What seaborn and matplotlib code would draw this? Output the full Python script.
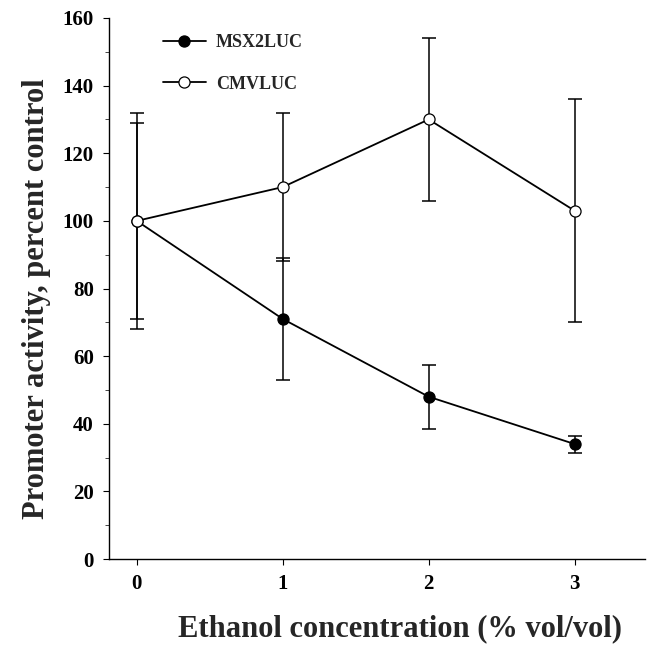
import matplotlib
matplotlib.use("Agg")
import matplotlib.pyplot as plt
import seaborn as sns
import pandas as pd
from matplotlib.ticker import MultipleLocator

# values
ethanol = [0, 1, 2, 3]
msx2luc_mean = [100, 71, 48, 34]
msx2luc_err = [29, 18, 9.5, 2.5]
cmvluc_mean = [100, 110, 130, 103]
cmvluc_err = [32, 22, 24, 33]

df = pd.concat([
    pd.DataFrame({"ethanol": ethanol, "activity": msx2luc_mean, "err": msx2luc_err, "construct": "MSX2LUC"}),
    pd.DataFrame({"ethanol": ethanol, "activity": cmvluc_mean, "err": cmvluc_err, "construct": "CMVLUC"}),
], ignore_index=True)

sns.set_theme(style="ticks")
plt.rcParams["font.family"] = ["Liberation Serif", "DejaVu Serif"]
plt.rcParams["font.weight"] = "bold"

fig = plt.figure(figsize=(6.47, 6.52), dpi=100)
ax = fig.add_axes([0.1685, 0.1426, 0.828, 0.8298])

face = {"MSX2LUC": "black", "CMVLUC": "white"}
for name in ["MSX2LUC", "CMVLUC"]:
    sub = df[df["construct"] == name]
    ax.errorbar(sub["ethanol"], sub["activity"], yerr=sub["err"], fmt="none",
                ecolor="black", elinewidth=1.1, capsize=5, capthick=1.1, zorder=2)
    sns.lineplot(data=sub, x="ethanol", y="activity", ax=ax, color="black",
                 linewidth=1.3, marker="o", markersize=8,
                 markerfacecolor=face[name], markeredgecolor="black",
                 markeredgewidth=0.9, label=name, zorder=3)

ax.set_xlim(-0.19, 3.48)
ax.set_ylim(0, 160)
ax.set_xticks(ethanol)
ax.yaxis.set_major_locator(MultipleLocator(20))
ax.yaxis.set_minor_locator(MultipleLocator(10))
ax.tick_params(axis="both", which="major", direction="out", length=4, width=0.8,
               labelsize=15, colors="black", pad=7)
ax.tick_params(axis="y", which="minor", direction="out", length=3, width=0.6)
for lab in ax.get_xticklabels() + ax.get_yticklabels():
    lab.set_fontweight("bold")

for side in ["top", "right"]:
    ax.spines[side].set_visible(False)
for side in ["left", "bottom"]:
    ax.spines[side].set_linewidth(1.0)
    ax.spines[side].set_color("black")

ax.set_xlabel("Ethanol concentration (% vol/vol)", fontsize=22, fontweight="bold", labelpad=14)
ax.set_ylabel("Promoter activity, percent control", fontsize=22, fontweight="bold", labelpad=8)
ax.xaxis.label.set_x(0.543)
ax.yaxis.label.set_y(0.482)

leg = ax.legend(loc="upper left", bbox_to_anchor=(0.07, 1.0), frameon=False,
                handlelength=2.4, labelspacing=1.35, handletextpad=0.55,
                prop={"size": 13, "weight": "bold"})

fig.savefig("out.png", dpi=100)
